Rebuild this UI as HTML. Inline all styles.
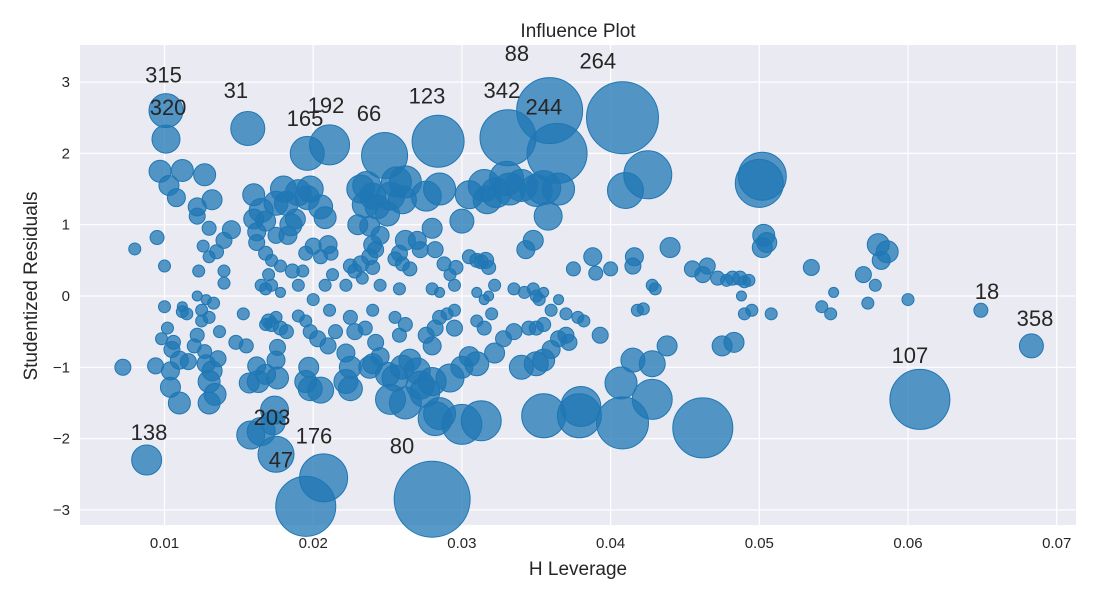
<!DOCTYPE html>
<html><head><meta charset="utf-8"><style>
body{margin:0;background:#fff;font-family:"Liberation Sans",Arial,sans-serif;}
svg text{font-family:"Liberation Sans",Arial,sans-serif;fill:#262626;}
</style></head><body>
<svg id="chart" width="1100" height="600" xmlns="http://www.w3.org/2000/svg">
<rect x="0" y="0" width="1100" height="600" fill="#fff"/>
<rect x="80" y="45" width="996" height="480" fill="#eaeaf2"/>
<g id="grid"></g><g id="pts"></g><g id="lbls"></g><g id="ticks"></g>
<text x="578" y="37" font-size="19" text-anchor="middle">Influence Plot</text>
<text x="578" y="575" font-size="19" text-anchor="middle">H Leverage</text>
<text x="37" y="286" font-size="19" text-anchor="middle" transform="rotate(-90 37 286)">Studentized Residuals</text>
</svg>
<script>
const xTicks=[0.01,0.02,0.03,0.04,0.05,0.06,0.07];
const xTickLabels=["0.01","0.02","0.03","0.04","0.05","0.06","0.07"];
const yTicks=[3,2,1,0,-1,-2,-3];
const yTickLabels=["3","2","1","0","\u22121","\u22122","\u22123"];
const leverage=[];const resid=[];const bubble=[];
const pts=[
[0.0080,0.66,6],[0.0095,0.82,7],[0.0100,0.42,6],[0.0097,1.75,11],[0.0103,1.55,10],[0.0108,1.38,9],[0.0112,1.76,11],[0.0122,1.12,8],[0.0122,1.25,9],[0.0127,1.70,11],[0.0132,1.35,10],[0.0130,0.95,7],[0.0126,0.70,6],[0.0123,0.35,6],[0.0135,0.62,7],[0.0140,0.78,8],[0.0145,0.93,9],[0.0140,0.35,6],[0.0140,0.18,6],[0.0130,0.55,6],[0.0100,-0.15,6],[0.0102,-0.45,6],[0.0112,-0.15,5],[0.0112,-0.22,6],[0.0115,-0.25,6],[0.0122,0.0,5],[0.0125,-0.2,6],[0.0128,-0.05,5],[0.0130,-0.3,6],[0.0133,-0.1,6],[0.0098,-0.6,6],[0.0106,-0.65,7],[0.0105,-0.75,8],[0.0110,-0.9,9],[0.0104,-1.05,9],[0.0104,-1.28,10],[0.0110,-1.5,11],[0.0094,-0.98,8],[0.0072,-1.0,8],[0.0120,-0.7,7],[0.0122,-0.55,7],[0.0127,-0.78,7],[0.0128,-0.95,9],[0.0132,-1.05,10],[0.0130,-1.2,11],[0.0134,-1.38,11],[0.0130,-1.5,11],[0.0136,-0.88,8],[0.0137,-0.5,6],[0.0125,-0.35,6],[0.0116,-0.92,8],[0.0148,-0.65,7],[0.0155,-0.7,7],[0.0153,-0.25,6],
[0.0160,1.42,11],[0.0160,1.08,10],[0.0162,0.9,9],[0.0165,1.2,12],[0.0168,1.05,10],[0.0162,0.75,8],[0.0168,0.6,7],[0.0172,0.5,6],[0.0175,0.85,8],[0.0178,0.42,6],[0.0170,0.3,6],[0.0165,0.15,6],[0.0168,0.1,6],[0.0172,0.15,6],[0.0178,0.05,5],[0.0175,1.3,12],[0.0180,1.5,13],[0.0182,1.3,12],[0.0185,1.0,11],[0.0183,0.85,9],[0.0188,1.08,10],[0.0190,1.45,13],[0.0196,1.38,12],[0.0198,1.5,13],[0.0186,0.35,7],[0.0190,0.15,6],[0.0193,0.35,6],[0.0195,0.6,7],[0.0200,0.7,8],[0.0200,-0.05,6],[0.0205,0.55,7],[0.0205,1.25,12],[0.0208,1.1,11],[0.0210,0.72,9],[0.0212,0.6,7],[0.0213,0.3,6],[0.0208,0.15,6],[0.0211,-0.2,6],
[0.0157,-1.22,10],[0.0162,-0.98,9],[0.0163,-1.2,11],[0.0168,-1.1,10],[0.0170,-0.35,7],[0.0172,-0.4,7],[0.0175,-0.3,6],[0.0168,-0.4,6],[0.0178,-0.45,7],[0.0182,-0.5,7],[0.0176,-0.72,8],[0.0175,-0.9,9],[0.0176,-1.15,11],[0.0158,-1.95,14],[0.0165,-1.9,14],[0.0173,-1.78,12],[0.0195,-0.35,6],[0.0198,-0.5,7],[0.0197,-1.0,10],[0.0195,-1.2,11],[0.0198,-1.3,12],[0.0205,-1.32,13],[0.0203,-0.6,8],[0.0210,-0.7,8],[0.0215,-0.5,7],[0.0190,-0.28,6],
[0.0225,0.42,7],[0.0228,0.35,7],[0.0232,0.45,8],[0.0233,0.25,6],[0.0222,0.15,6],[0.0230,1.0,10],[0.0238,0.98,10],[0.0235,1.28,13],[0.0232,1.5,14],[0.0236,1.55,14],[0.0240,1.4,13],[0.0243,1.25,12],[0.0240,0.72,9],[0.0238,0.55,8],[0.0240,0.4,7],[0.0242,0.65,8],[0.0245,0.85,9],[0.0250,1.15,12],[0.0252,1.4,14],[0.0256,1.6,15],[0.0262,1.6,16],[0.0260,1.35,14],[0.0262,0.78,10],[0.0258,0.6,8],[0.0255,0.52,7],[0.0260,0.45,7],[0.0265,0.38,7],[0.0270,0.78,9],[0.0272,0.65,8],[0.0276,1.4,15],[0.0285,1.5,16],[0.0280,0.95,10],[0.0282,0.65,8],[0.0288,0.45,7],[0.0292,0.3,6],[0.0296,0.4,7],[0.0300,1.05,12],[0.0295,0.15,6],[0.0285,0.05,5],[0.0280,0.1,6],[0.0258,0.1,6],[0.0245,0.15,6],
[0.0225,-0.3,7],[0.0228,-0.5,8],[0.0222,-0.8,9],[0.0225,-1.0,11],[0.0222,-1.2,12],[0.0225,-1.3,12],[0.0235,-0.45,7],[0.0240,-0.2,6],[0.0242,-0.65,8],[0.0245,-0.85,9],[0.0238,-1.0,11],[0.0240,-0.95,10],[0.0255,-0.3,6],[0.0258,-0.55,7],[0.0262,-0.4,7],[0.0250,-1.1,12],[0.0255,-1.15,13],[0.0260,-1.0,12],[0.0265,-0.9,11],[0.0270,-1.05,13],[0.0252,-1.45,15],[0.0262,-1.5,16],[0.0272,-1.25,14],[0.0275,-1.35,15],[0.0280,-1.2,14],[0.0276,-0.55,8],[0.0282,-0.45,8],[0.0280,-0.7,9],[0.0285,-0.3,7],[0.0290,-0.25,6],[0.0295,-0.45,8],[0.0295,-0.2,6],[0.0292,-1.15,14],[0.0285,-1.65,16],[0.0282,-1.72,17],[0.0300,-1.8,20],[0.0300,-1.0,11],[0.0305,-0.85,10],[0.0310,-0.95,12],
[0.0305,0.55,7],[0.0310,0.5,7],[0.0313,0.48,7],[0.0316,0.5,8],[0.0318,0.4,7],[0.0305,1.42,14],[0.0315,1.55,16],[0.0317,1.35,14],[0.0323,1.45,15],[0.0330,1.65,17],[0.0332,1.5,16],[0.0340,1.55,16],[0.0343,0.65,9],[0.0348,0.78,10],[0.0350,1.48,16],[0.0355,1.52,17],[0.0358,1.12,14],[0.0365,1.5,16],[0.0335,0.1,6],[0.0342,0.05,6],[0.0348,0.1,6],[0.0350,0.0,6],[0.0352,-0.05,6],[0.0355,0.05,5],[0.0360,-0.2,6],[0.0365,-0.05,5],[0.0370,-0.25,6],[0.0375,0.38,7],[0.0378,-0.3,6],[0.0382,-0.35,6],[0.0388,0.55,9],[0.0390,0.32,7],[0.0310,0.05,5],[0.0315,-0.05,5],[0.0318,0.0,5],[0.0320,-0.25,6],[0.0322,0.15,6],[0.0310,-0.35,6],[0.0315,-0.45,7],[0.0328,-0.6,8],[0.0335,-0.5,8],[0.0345,-0.45,7],[0.0350,-0.45,7],[0.0355,-0.4,7],[0.0365,-0.6,8],[0.0370,-0.55,8],[0.0372,-0.65,8],[0.0360,-0.75,9],[0.0340,-1.0,12],[0.0350,-0.95,12],[0.0355,-0.9,11],[0.0322,-0.8,10],[0.0393,-0.55,8],
[0.0400,0.38,7],[0.0415,0.42,8],[0.0416,0.55,9],[0.0418,-0.2,6],[0.0422,-0.18,6],[0.0428,0.15,6],[0.0430,0.1,6],[0.0440,0.68,10],[0.0455,0.38,8],[0.0462,0.3,8],[0.0465,0.42,8],[0.0472,0.25,7],[0.0478,0.22,6],[0.0482,0.25,7],[0.0487,0.25,7],[0.0490,0.2,6],[0.0493,0.22,6],[0.0488,0.0,5],[0.0490,-0.25,6],[0.0495,-0.2,6],[0.0505,0.75,10],[0.0502,0.68,10],[0.0503,0.85,11],[0.0508,-0.25,6],[0.0415,-0.9,12],[0.0428,-0.95,13],[0.0438,-0.7,10],[0.0475,-0.7,10],[0.0483,-0.65,10],
[0.0535,0.4,8],[0.0542,-0.15,6],[0.0548,-0.25,6],[0.0550,0.05,5],[0.0570,0.3,8],[0.0573,-0.1,6],[0.0578,0.15,6],[0.0580,0.72,11],[0.0582,0.5,9],[0.0586,0.62,11],[0.0600,-0.05,6],
[0.0101,2.6,17],[0.0101,2.2,14],[0.0156,2.35,17],[0.0196,2.0,17],[0.0211,2.12,20],[0.0248,1.97,23],[0.0284,2.17,26],[0.0331,2.22,28],[0.0359,2.6,33],[0.0364,2.0,30],[0.0408,2.5,36],[0.0425,1.7,24],[0.0410,1.48,18],[0.0500,1.58,24],[0.0502,1.68,24],
[0.0649,-0.2,7],[0.0683,-0.7,12],[0.0608,-1.45,30],[0.0088,-2.3,15],[0.0174,-1.6,14],[0.0175,-2.22,18],[0.0207,-2.55,24],[0.0195,-2.95,30],[0.0280,-2.85,38],
[0.0462,-1.85,30],[0.0408,-1.78,26],[0.0355,-1.68,22],[0.0379,-1.68,22],[0.0380,-1.55,20],[0.0428,-1.45,20],[0.0407,-1.22,16],[0.0313,-1.75,20]
];
pts.forEach(p=>{leverage.push(p[0]);resid.push(p[1]);bubble.push(p[2]);});
const labelText=["315","320","31","165","192","66","123","342","88","244","264","18","358","107","138","203","47","176","80"];
const labelH=[0.00993,0.01024,0.0148,0.01945,0.02086,0.02375,0.02765,0.03269,0.0337,0.03551,0.03914,0.06531,0.06854,0.06013,0.00896,0.01723,0.01783,0.02005,0.02597];
const labelR=[3.11,2.65,2.89,2.50,2.68,2.57,2.81,2.89,3.41,2.66,3.30,0.07,-0.31,-0.83,-1.91,-1.70,-2.29,-1.96,-2.10];

const X=v=>164.5+(v-0.01)*14870;
const Y=v=>296-v*71.3;
const NS="http://www.w3.org/2000/svg";
function mk(t,a,parent){const e=document.createElementNS(NS,t);for(const k in a)e.setAttribute(k,a[k]);document.getElementById(parent).appendChild(e);return e;}
xTicks.forEach((t,i)=>{
  const l=mk('line',{x1:X(t),x2:X(t),y1:45,y2:525,stroke:'#fff','stroke-width':1.2},'grid');
  
  
  const tx=mk('text',{x:X(t),y:548,'font-size':15,'text-anchor':'middle'},'ticks');tx.textContent=xTickLabels[i];
  
  
});
yTicks.forEach((t,i)=>{
  const l=mk('line',{x1:80,x2:1076,y1:Y(t),y2:Y(t),stroke:'#fff','stroke-width':1.2},'grid');
  
  
  const tx=mk('text',{x:70,y:Y(t)+5,'font-size':15,'text-anchor':'end'},'ticks');tx.textContent=yTickLabels[i];
  
  
});
for(let i=0;i<leverage.length;i++){
  const c=mk('circle',{cx:X(leverage[i]),cy:Y(resid[i]),r:bubble[i],fill:'rgb(31,119,180)','fill-opacity':0.75,stroke:'rgb(31,119,180)','stroke-width':1},'pts');
  
  
}
for(let i=0;i<labelText.length;i++){
  const t=mk('text',{x:X(labelH[i]),y:Y(labelR[i])+8,'font-size':22,'text-anchor':'middle'},'lbls');
  t.textContent=labelText[i];
  
  
}
</script>
</body></html>
